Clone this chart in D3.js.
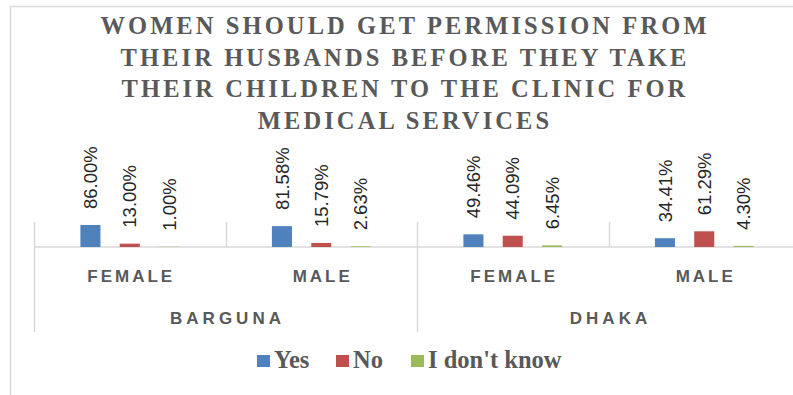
<!DOCTYPE html>
<html>
<head>
<meta charset="utf-8">
<script src="https://cdn.jsdelivr.net/npm/d3@7"></script>
<style>
  html, body { margin: 0; padding: 0; background: #fff; }
  svg { display: block; }
</style>
</head>
<body>
<svg id="chart"></svg>
<script>
const titleLines = [
  "WOMEN SHOULD GET PERMISSION FROM",
  "THEIR HUSBANDS BEFORE THEY TAKE",
  "THEIR CHILDREN TO THE CLINIC FOR",
  "MEDICAL SERVICES"
];
const regions = ["BARGUNA", "DHAKA"];
const genders = ["FEMALE", "MALE"];
const series = ["Yes", "No", "I don't know"];
const yesValues = [86.00, 81.58, 49.46, 34.41];
const noValues = [13.00, 15.79, 44.09, 61.29];
const dontKnowValues = [1.00, 2.63, 6.45, 4.30];

const width = 793, height = 395;
const colors = { "Yes": "#4F81BD", "No": "#C0504D", "I don't know": "#9BBB59" };
const textColor = "#595959";
const lineColor = "#D9D9D9";

// one row per region/gender group
const groups = [];
regions.forEach((r, ri) => genders.forEach((g, gi) => {
  const i = ri * genders.length + gi;
  groups.push({
    id: r + "|" + g, region: r, gender: g,
    values: [
      { key: "Yes", value: yesValues[i] },
      { key: "No", value: noValues[i] },
      { key: "I don't know", value: dontKnowValues[i] }
    ]
  });
}));

const svg = d3.select("#chart").attr("width", width).attr("height", height);

// chart border (right/bottom fall outside the picture)
svg.append("rect")
  .attr("x", 10.5).attr("y", 6.5)
  .attr("width", 900).attr("height", 500)
  .attr("fill", "none").attr("stroke", lineColor).attr("stroke-width", 1.5);

// title
const title = svg.append("text")
  .attr("text-anchor", "middle")
  .style("font-family", "'Liberation Serif', serif")
  .style("font-weight", "bold")
  .style("font-size", "24.5px")
  .style("letter-spacing", "3.1px")
  .style("fill", textColor);
titleLines.forEach((t, i) => {
  title.append("tspan").attr("x", 405).attr("y", 34 + i * 31.7).text(t);
});

const baseY = 247;
const x0 = d3.scaleBand().domain(groups.map(d => d.id)).range([34, 800]);
const x1 = d3.scaleBand().domain(series).range([0, x0.bandwidth()])
  .paddingInner(0.49).paddingOuter(1.18);
const y = d3.scaleLinear().domain([0, 100]).range([baseY, baseY - 25.6]);

// axis lines
const axis = svg.append("g").attr("stroke", lineColor).attr("stroke-width", 1.5);
axis.append("line").attr("x1", 34).attr("x2", 800).attr("y1", baseY).attr("y2", baseY);
groups.forEach((d, i) => {
  const isRegionStart = i % genders.length === 0;
  axis.append("line")
    .attr("x1", Math.round(x0(d.id)) + 0.5).attr("x2", Math.round(x0(d.id)) + 0.5)
    .attr("y1", 222).attr("y2", isRegionStart ? 332 : baseY);
});

// bars
const g = svg.append("g").selectAll("g").data(groups).join("g")
  .attr("transform", d => `translate(${x0(d.id)},0)`);

g.selectAll("rect").data(d => d.values).join("rect")
  .attr("x", d => x1(d.key))
  .attr("width", x1.bandwidth())
  .attr("y", d => y(d.value))
  .attr("height", d => baseY - y(d.value))
  .attr("fill", d => colors[d.key]);

g.selectAll("text").data(d => d.values).join("text")
  .attr("transform", d => `translate(${x1(d.key) + x1.bandwidth() / 2},${y(d.value) - 16}) rotate(-90)`)
  .attr("dy", "0.36em")
  .style("font-family", "'Liberation Sans', Arial, sans-serif")
  .style("font-size", "18.5px")
  .style("fill", "#262626")
  .text(d => d.value.toFixed(2) + "%");

// category labels
svg.append("g").selectAll("text").data(groups).join("text")
  .attr("x", d => x0(d.id) + x0.bandwidth() / 2 + 1.5)
  .attr("y", 282)
  .attr("text-anchor", "middle")
  .style("font-family", "'Liberation Sans', Arial, sans-serif")
  .style("font-weight", "bold")
  .style("font-size", "17px")
  .style("letter-spacing", "3px")
  .style("fill", textColor)
  .text(d => d.gender);

svg.append("g").selectAll("text").data(regions).join("text")
  .attr("x", r => {
    const ids = groups.filter(d => d.region === r).map(d => d.id);
    return (x0(ids[0]) + x0(ids[ids.length - 1]) + x0.bandwidth()) / 2 + 2;
  })
  .attr("y", 324)
  .attr("text-anchor", "middle")
  .style("font-family", "'Liberation Sans', Arial, sans-serif")
  .style("font-weight", "bold")
  .style("font-size", "17px")
  .style("letter-spacing", "4px")
  .style("fill", textColor)
  .text(d => d);

// legend
const legendX = [257, 336, 411];
const legend = svg.append("g").selectAll("g").data(series).join("g")
  .attr("transform", (d, i) => `translate(${legendX[i]},355)`);
legend.append("rect")
  .attr("width", 13).attr("height", 12)
  .attr("fill", d => colors[d]);
legend.append("text")
  .attr("x", 17).attr("y", 13)
  .style("font-family", "'Liberation Serif', serif")
  .style("font-weight", "bold")
  .style("font-size", "24.5px")
  .style("fill", textColor)
  .text(d => d);
</script>
</body>
</html>
